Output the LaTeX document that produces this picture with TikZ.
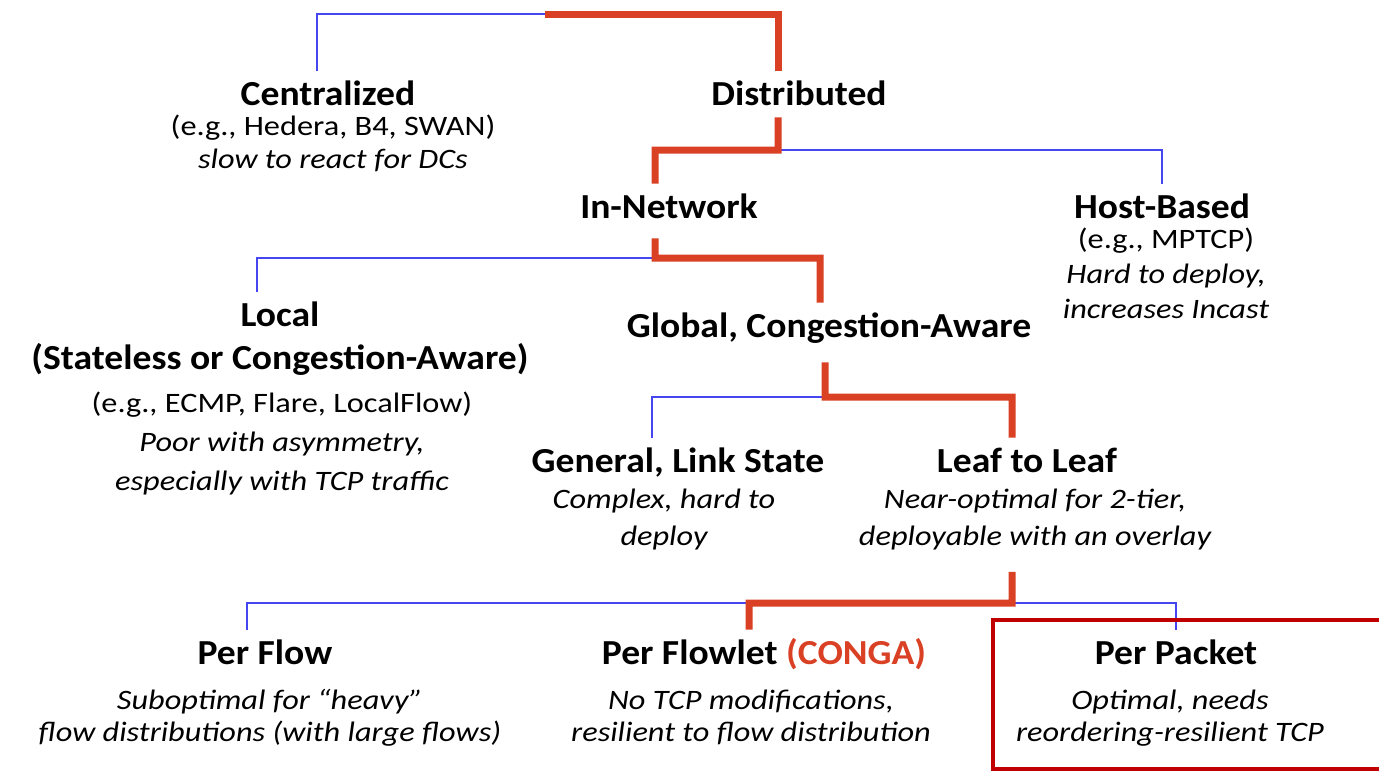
\documentclass[tikz,border=0pt]{standalone}
\usepackage{fontspec}
\setmainfont{Carlito}[FakeStretch=1.07]
\newfontfamily\notefont{Carlito}[FakeStretch=1.15]
\usetikzlibrary{calc}

\definecolor{treeblue}{RGB}{70,70,240}
\definecolor{treered}{RGB}{217,64,36}
\definecolor{boxred}{RGB}{192,0,0}

\tikzset{
  title/.style={font=\fontsize{20}{24.4}\selectfont\bfseries, align=center, anchor=base,
    inner xsep=0pt, inner ysep=0.24cm, text height=12.5pt, text depth=0pt},
  note/.style={font=\notefont\fontsize{16}{#1}\selectfont, align=center, anchor=base, inner sep=0pt},
  note/.default=20pt,
  inote/.style={note=#1, font=\notefont\fontsize{16}{#1}\selectfont\itshape},
  blueline/.style={treeblue, line width=0.05cm},
  redline/.style={treered, line width=0.14cm},
}

\begin{document}
\begin{tikzpicture}[x=0.02cm, y=-0.02cm]
  \useasboundingbox (0,0) rectangle (1379,772);

  % top level (notes sit on their last baseline)
  \node[title] (cen) at (328,105) {Centralized};
  \node[note=18.7pt] (cenNote) at (333,168) {(e.g., Hedera, B4, SWAN)\\ \itshape slow to react for DCs};
  \node[title] (dist) at (799,105) {Distributed};

  % distributed
  \node[title] (innet) at (669,218) {In-Network};
  \node[title] (host) at (1162,218) {Host-Based};
  \node[note=19.8pt] (hostNote) at (1166,318) {(e.g., MPTCP)\\ \itshape Hard to deploy,\\ \itshape increases Incast};

  % in-network
  \node[title, text height=36.9pt] (local) at (280,369) {Local\\ (Stateless or Congestion-Aware)};
  \node[note=22pt] (localNote) at (282,490) {(e.g., ECMP, Flare, LocalFlow)\\ \itshape Poor with asymmetry,\\ \itshape especially with TCP traffic};
  \node[title] (global) at (829,337) {Global, Congestion-Aware};

  % global
  \node[title] (linkst) at (678,472) {General, Link State};
  \node[inote=21pt] (linkstNote) at (664,545) {Complex, hard to\\ deploy};
  \node[title] (leaf) at (1027,472) {Leaf to Leaf};
  \node[inote=21pt] (leafNote) at (1035,545) {Near-optimal for 2-tier,\\ deployable with an overlay};

  % leaf to leaf
  \node[title] (perflow) at (265,664) {Per Flow};
  \node[inote=18pt] (perflowNote) at (270,741) {Suboptimal for “heavy”\\ flow distributions (with large flows)};
  \node[title] (flowlet) at (764,664) {Per Flowlet \textcolor{treered}{(CONGA)}};
  \node[inote=18pt] (flowletNote) at (751,741) {No TCP modifications,\\ resilient to flow distribution};
  \node[title] (perpkt) at (1176,664) {Per Packet};
  \node[inote=18pt] (perpktNote) at (1170,741) {Optimal, needs\\ reordering-resilient TCP};

  % connectors
  \coordinate (root) at (545,14);
  \draw[blueline] (root) -| ([xshift=-0.22cm]cen.north);
  \draw[redline] (root) -| ([xshift=-0.42cm]dist.north);

  \coordinate (distFork) at (778,150);
  \draw[blueline] (distFork) -| (host.north);
  \draw[redline] ([xshift=-0.42cm]dist.south) -- (distFork) -| ([xshift=-0.28cm]innet.north);

  \coordinate (innetFork) at (655,258);
  \draw[blueline] (innetFork) -| ([xshift=-0.46cm]local.north);
  \draw[redline] ([xshift=-0.28cm,yshift=-0.16cm]innet.south) -- (innetFork) -| ([xshift=-0.18cm]global.north);

  \coordinate (globFork) at (825,397);
  \draw[blueline] (globFork) -| ([xshift=-0.52cm]linkst.north);
  \draw[redline] ([xshift=-0.08cm,yshift=-0.26cm]global.south) -- (globFork) -| ([xshift=-0.3cm]leaf.north);

  \coordinate (leafFork) at (1012,603);
  \draw[blueline] (leafFork) -| ([xshift=-0.36cm]perflow.north);
  \draw[blueline] (leafFork) -| (perpkt.north);
  \draw[redline] ([xshift=-0.46cm,yshift=-0.44cm]leafNote.south) -- (leafFork) -| ([xshift=-0.3cm]flowlet.north);

  % highlight
  \draw[boxred, line width=0.08cm] (1379,620) -| (993,769) -- (1379,769);
\end{tikzpicture}
\end{document}
